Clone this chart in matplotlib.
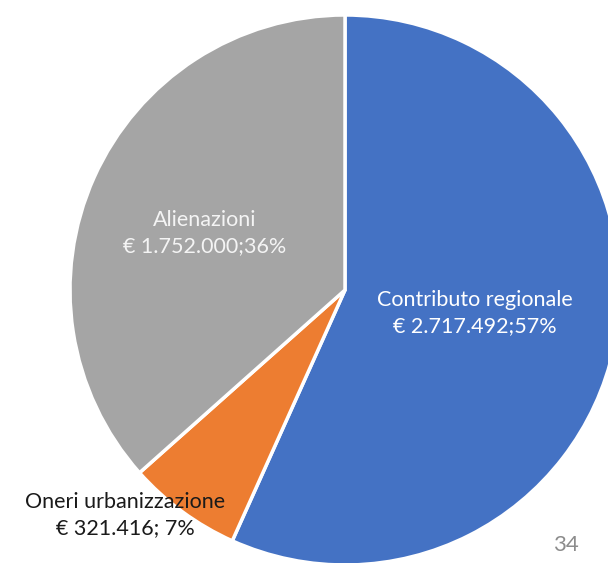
import matplotlib.pyplot as plt

# dati
categorie = ["Contributo regionale", "Oneri urbanizzazione", "Alienazioni"]
valori = [2717492, 321416, 1752000]
percentuali = [57, 7, 36]
separatori = [";", "; ", ";"]
colori = ["#4472C4", "#ED7D31", "#A5A5A5"]
numero_pagina = "34"

W, H = 608, 563
fig = plt.figure(figsize=(W / 100, H / 100), dpi=100)
ax = fig.add_axes([0, 0, 1, 1])

# torta in coordinate pixel (centro 345,290 dall'alto, raggio 275)
ax.pie(valori, colors=colori, startangle=90, counterclock=False,
       center=(345, H - 290), radius=275,
       wedgeprops=dict(edgecolor="white", linewidth=2.5), frame=True)
ax.set_xlim(0, W)
ax.set_ylim(0, H)
ax.axis("off")


def euro(v):
    return "€ " + f"{v:,}".replace(",", ".")


# posizioni etichette (x, y dall'alto) e colore testo
pos_etichette = [(475, 313), (125, 515), (205, 233)]
col_testo = ["#ffffff", "#1a1a1a", "#f4f4f4"]
for cat, v, s, p, (x, y), c in zip(categorie, valori, separatori, percentuali,
                                    pos_etichette, col_testo):
    ax.text(x, H - y, f"{cat}\n{euro(v)}{s}{p}%", ha="center", va="center",
            fontsize=15.5, family="Lato", color=c, linespacing=1.42)

ax.text(566, H - 545, numero_pagina, ha="center", va="center",
        fontsize=16, family="Lato", color="#8c8c8c")

fig.savefig("out.png", dpi=100)
